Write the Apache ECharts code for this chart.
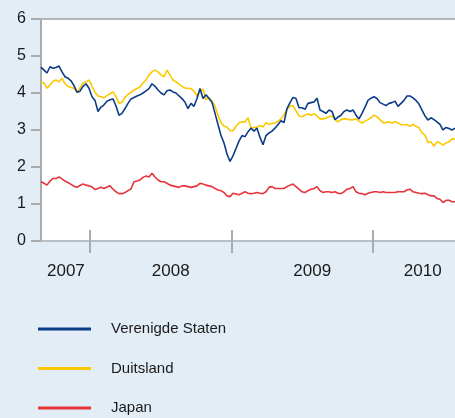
<!DOCTYPE html>
<html lang="nl">
<head>
    <meta charset="utf-8" />
    <title>Rente op staatsobligaties</title>
    <script src="https://cdn.jsdelivr.net/npm/echarts@6/dist/echarts.min.js"></script>
    <style>
        html, body { margin: 0; padding: 0; background: #e3edf5; }
        #chart { width: 455px; height: 418px; }
    </style>
</head>
<body>
    <div id="chart"></div>
    <script>
        var seriesNames = ['Verenigde Staten', 'Duitsland', 'Japan'];
        var yearLabels = ['2007', '2008', '2009', '2010'];
        var yTicks = [0, 1, 2, 3, 4, 5, 6];

        var usa = [
            4.70, 4.62, 4.54, 4.71, 4.67, 4.69, 4.73, 4.57, 4.44, 4.40,
            4.33, 4.20, 4.02, 4.05, 4.18, 4.25, 4.13, 3.90, 3.80, 3.50,
            3.62, 3.68, 3.78, 3.82, 3.84, 3.65, 3.40, 3.45, 3.58, 3.72,
            3.84, 3.88, 3.92, 3.95, 4.00, 4.06, 4.12, 4.25, 4.18, 4.08,
            4.00, 3.95, 4.06, 4.08, 4.03, 4.00, 3.92, 3.85, 3.75, 3.58,
            3.72, 3.64, 3.85, 4.12, 3.85, 3.95, 3.85, 3.75, 3.45, 3.15,
            2.85, 2.65, 2.35, 2.15, 2.30, 2.50, 2.70, 2.85, 2.82, 2.95,
            3.05, 2.97, 3.05, 2.80, 2.60, 2.85, 2.92, 2.97, 3.05, 3.15,
            3.25, 3.20, 3.58, 3.74, 3.88, 3.85, 3.60, 3.60, 3.56, 3.72,
            3.74, 3.76, 3.86, 3.54, 3.50, 3.45, 3.54, 3.50, 3.28, 3.35,
            3.40, 3.50, 3.54, 3.50, 3.54, 3.40, 3.30, 3.45, 3.62, 3.80,
            3.86, 3.90, 3.85, 3.74, 3.70, 3.66, 3.72, 3.74, 3.78, 3.64,
            3.72, 3.80, 3.92, 3.92, 3.87, 3.80, 3.70, 3.54, 3.38, 3.27,
            3.33, 3.28, 3.22, 3.15, 3.00, 3.07, 3.04, 3.00, 3.05
        ];
        var germany = [
            4.30, 4.27, 4.13, 4.22, 4.32, 4.35, 4.30, 4.40, 4.25, 4.18,
            4.15, 4.13, 4.03, 4.13, 4.27, 4.30, 4.35, 4.18, 4.02, 3.92,
            3.90, 3.87, 3.93, 3.98, 4.03, 3.90, 3.72, 3.75, 3.88, 3.96,
            4.02, 4.08, 4.12, 4.16, 4.27, 4.35, 4.49, 4.57, 4.62, 4.57,
            4.49, 4.44, 4.62, 4.49, 4.35, 4.30, 4.24, 4.18, 4.13, 4.13,
            4.12, 4.05, 3.92, 4.05, 4.10, 3.82, 3.88, 3.78, 3.65, 3.40,
            3.20, 3.10, 3.08, 2.98, 2.98, 3.10, 3.19, 3.22, 3.22, 3.33,
            3.05, 3.07, 3.07, 3.12, 3.08, 3.20, 3.15, 3.18, 3.19, 3.24,
            3.30, 3.42, 3.56, 3.64, 3.66, 3.52, 3.38, 3.36, 3.40, 3.44,
            3.40, 3.44, 3.38, 3.30, 3.30, 3.32, 3.36, 3.38, 3.28, 3.22,
            3.28, 3.30, 3.30, 3.27, 3.28, 3.30, 3.24, 3.19, 3.24, 3.28,
            3.33, 3.40, 3.36, 3.28, 3.20, 3.20, 3.22, 3.19, 3.22, 3.19,
            3.15, 3.14, 3.14, 3.10, 3.16, 3.10, 3.06, 2.92, 2.86, 2.66,
            2.68, 2.56, 2.68, 2.65, 2.59, 2.65, 2.68, 2.76, 2.75
        ];
        var japan = [
            1.60, 1.56, 1.51, 1.62, 1.69, 1.69, 1.73, 1.68, 1.62, 1.58,
            1.53, 1.48, 1.45, 1.50, 1.54, 1.51, 1.49, 1.46, 1.39, 1.42,
            1.45, 1.42, 1.46, 1.49, 1.40, 1.33, 1.28, 1.28, 1.31, 1.36,
            1.41, 1.60, 1.62, 1.65, 1.72, 1.76, 1.73, 1.83, 1.73, 1.65,
            1.60, 1.60, 1.56, 1.51, 1.49, 1.47, 1.45, 1.49, 1.49, 1.47,
            1.45, 1.47, 1.49, 1.56, 1.54, 1.51, 1.49, 1.47, 1.42, 1.38,
            1.36, 1.31, 1.22, 1.20, 1.29, 1.27, 1.25, 1.29, 1.33, 1.29,
            1.28, 1.29, 1.31, 1.29, 1.28, 1.33, 1.45, 1.47, 1.42, 1.42,
            1.42, 1.42, 1.47, 1.51, 1.54, 1.47, 1.40, 1.33, 1.31, 1.36,
            1.40, 1.42, 1.47, 1.36, 1.31, 1.33, 1.33, 1.31, 1.33, 1.29,
            1.28, 1.33, 1.40, 1.42, 1.47, 1.33, 1.29, 1.28, 1.25, 1.29,
            1.31, 1.33, 1.33, 1.31, 1.33, 1.31, 1.31, 1.31, 1.31, 1.33,
            1.33, 1.33, 1.38, 1.40, 1.33, 1.31, 1.29, 1.28, 1.29, 1.25,
            1.22, 1.22, 1.15, 1.13, 1.04, 1.10, 1.10, 1.06, 1.06
        ];

        // tijdas in jaren: eerste waarneming eind augustus 2007
        var startYear = 2007.654;
        var stepYear = 7.74 / 365.25;
        var endYear = startYear + (usa.length - 1) * stepYear;

        function pairs(values) {
            return values.map(function (v, i) {
                return [startYear + i * stepYear, v];
            });
        }

        var colors = ['#0b3d87', '#fcc800', '#e6343a'];
        var axisGrey = '#a9abad';
        var font = '"Liberation Sans", Arial, sans-serif';

        var dom = document.getElementById('chart');
        var myChart = echarts.init(dom, null, { renderer: 'canvas' });

        var option = {
            animation: false,
            backgroundColor: '#e3edf5',
            color: colors,
            grid: {
                left: 41,
                right: 0,
                top: 19,
                bottom: 177,
                show: true,
                backgroundColor: '#ffffff',
                borderWidth: 0
            },
            legend: {
                orient: 'vertical',
                left: 38,
                top: 321,
                padding: 0,
                height: 97,
                icon: 'rect',
                itemWidth: 53,
                itemHeight: 3,
                itemGap: 23.5,
                data: seriesNames,
                textStyle: {
                    fontFamily: font,
                    fontSize: 15,
                    lineHeight: 16,
                    color: '#1a1a1a',
                    padding: [0, 0, 0, 15]
                }
            },
            xAxis: [{
                // ticks binnen de grafiek
                type: 'value',
                position: 'bottom',
                min: startYear,
                max: endYear,
                axisLine: { show: true, lineStyle: { color: '#b9bec3', width: 2 } },
                axisTick: {
                    show: true,
                    inside: true,
                    length: 11,
                    customValues: [2008, 2009, 2010],
                    lineStyle: { color: axisGrey, width: 2 }
                },
                axisLabel: { show: false },
                splitLine: { show: false }
            }, {
                // ticks buiten de grafiek + jaartallen
                type: 'value',
                position: 'bottom',
                min: startYear,
                max: endYear,
                axisLine: { show: false },
                axisTick: {
                    show: true,
                    inside: false,
                    length: 12,
                    customValues: [2008, 2009, 2010],
                    lineStyle: { color: axisGrey, width: 2 }
                },
                axisLabel: {
                    show: true,
                    customValues: [2007.83, 2008.57, 2009.57, 2010.35],
                    margin: 22,
                    fontFamily: font,
                    fontSize: 17,
                    color: '#1a1a1a',
                    formatter: function (v) {
                        return yearLabels[Math.floor(v) - 2007];
                    }
                },
                splitLine: { show: false }
            }, {
                // bovenrand
                type: 'value',
                position: 'top',
                min: startYear,
                max: endYear,
                axisLine: { show: true, lineStyle: { color: '#b4b6b8', width: 2 } },
                axisTick: { show: false },
                axisLabel: { show: false },
                splitLine: { show: false }
            }],
            yAxis: {
                type: 'value',
                min: yTicks[0],
                max: yTicks[yTicks.length - 1],
                interval: 1,
                axisLine: { show: true, lineStyle: { color: axisGrey, width: 2 } },
                axisTick: { show: true, length: 10, lineStyle: { color: axisGrey, width: 2 } },
                axisLabel: {
                    margin: 15,
                    fontFamily: font,
                    fontSize: 16,
                    color: '#1a1a1a'
                },
                splitLine: { show: false }
            },
            series: [
                { name: seriesNames[0], data: pairs(usa) },
                { name: seriesNames[1], data: pairs(germany) },
                { name: seriesNames[2], data: pairs(japan) }
            ].map(function (s, i) {
                return {
                    name: s.name,
                    type: 'line',
                    xAxisIndex: 0,
                    data: s.data,
                    showSymbol: false,
                    symbol: 'none',
                    z: 3 - i,
                    lineStyle: { width: 1.6, color: colors[i] },
                    itemStyle: { color: colors[i] }
                };
            })
        };

        myChart.setOption(option);
    </script>
</body>
</html>
